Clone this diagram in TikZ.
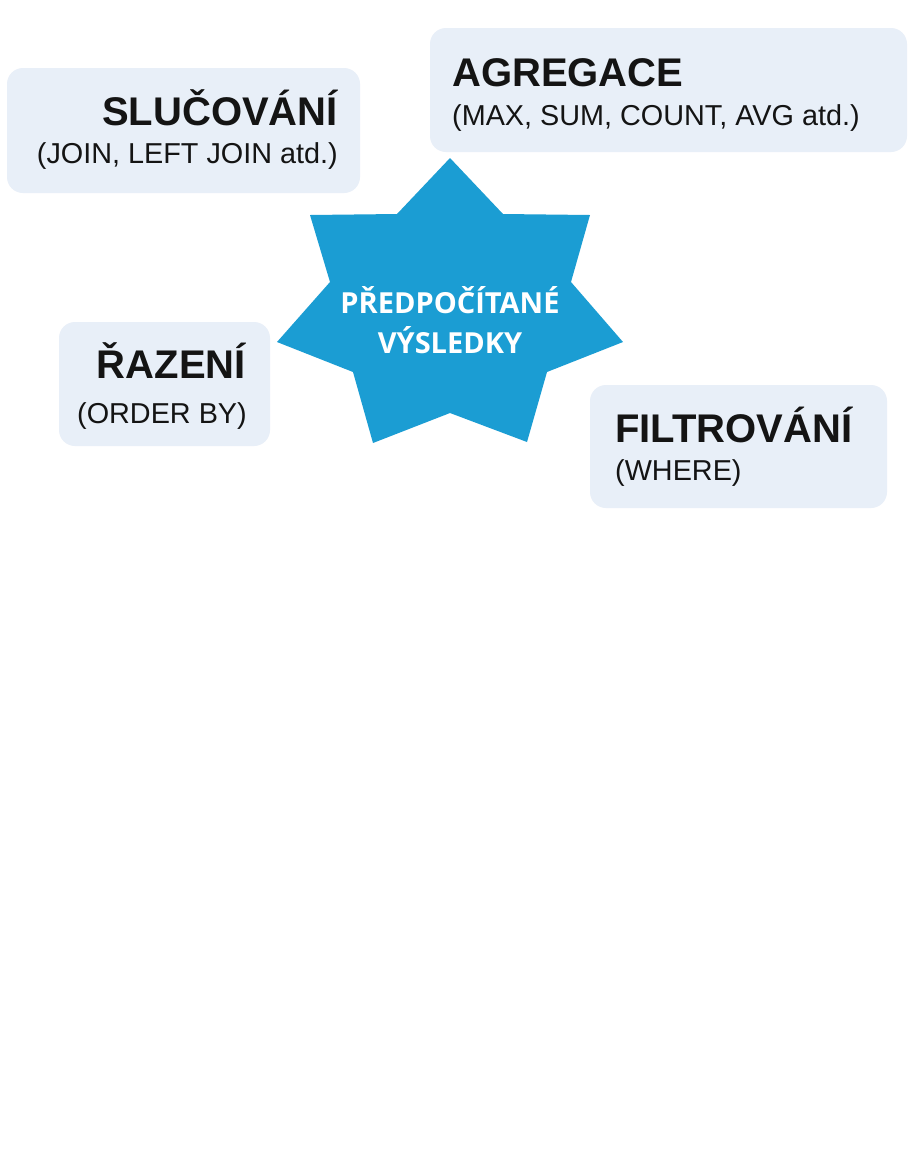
\documentclass[tikz,border=0pt]{standalone}
\usepackage{fontspec}
\setmainfont{Liberation Sans}
\newfontfamily\starfont{Open Sans}
\definecolor{boxfill}{RGB}{232,239,248}
\definecolor{starblue}{RGB}{27,157,211}
\definecolor{inktext}{RGB}{20,20,20}
\begin{document}
\begin{tikzpicture}[x=1pt,y=-1pt,
  infobox/.style={draw=none,fill=boxfill,rounded corners=16pt},
  titletext/.style={inner sep=0pt,font=\fontsize{40}{42}\selectfont\bfseries,text=inktext},
  subtext/.style={inner sep=0pt,font=\fontsize{28.8}{30}\selectfont,text=inktext},
  startext/.style={align=center,text=white,font=\starfont\fontsize{29}{40}\selectfont\bfseries}]
\useasboundingbox (0,0) rectangle (912,1171);
\fill[white] (0,0) rectangle (912,1171);
% boxes
\path[infobox] (7,68) rectangle (360,193);
\path[infobox] (430,28) rectangle (907,152);
\path[infobox] (59,322) rectangle (270,446);
\path[infobox] (590,385) rectangle (887,508);
% star
\fill[starblue] (450,158) -- (503,214) -- (590,215) -- (571,282) -- (623,342)
  -- (547,372) -- (527,442) -- (450,413) -- (373,443) -- (353,372)
  -- (277,342) -- (330,282) -- (310,215) -- (397,214) -- cycle;
\node[startext] (star) at (450,320) {PŘEDPOČÍTANÉ\\VÝSLEDKY};
% texts
\node[titletext,anchor=base east] (slt) at (338,125) {SLUČOVÁNÍ};
\node[subtext,anchor=base east] (sls) at (338,163) {(JOIN, LEFT JOIN atd.)};
\node[titletext,anchor=base west] (agt) at (452,86) {AGREGACE};
\node[subtext,anchor=base west] (ags) at (452,125) {(MAX, SUM, COUNT, AVG atd.)};
\node[titletext,anchor=base east] (rat) at (246,378) {ŘAZENÍ};
\node[subtext,anchor=base east] (ras) at (247,423) {(ORDER BY)};
\node[titletext,anchor=base west] (fit) at (615,442) {FILTROVÁNÍ};
\node[subtext,anchor=base west] (fis) at (615,480) {(WHERE)};
\end{tikzpicture}
\end{document}
